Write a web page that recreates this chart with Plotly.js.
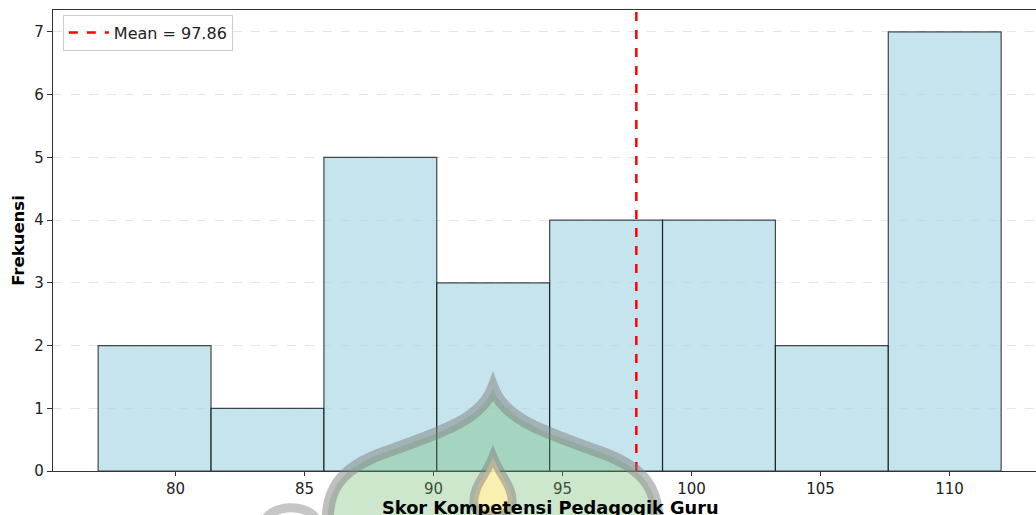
<!DOCTYPE html>
<html>
<head>
<meta charset="utf-8">
<script src="https://cdn.plot.ly/plotly-3.0.1.min.js"></script>
<style>html,body{margin:0;padding:0;background:#fff;}#chart{width:1036px;height:515px;}</style>
</head>
<body>
<div id="chart"></div>
<script>
// ---- data ----
const binStart = 77;
const binWidth = 4.375;
const counts = [2, 1, 5, 3, 4, 4, 2, 7];
const meanValue = 97.86;
const xTickVals = [80, 85, 90, 95, 100, 105, 110];
const yTickVals = [0, 1, 2, 3, 4, 5, 6, 7];
const xTitle = "Skor Kompetensi Pedagogik Guru";
const yTitle = "Frekuensi";
const meanLabel = "Mean = " + meanValue.toFixed(2);

const centers = counts.map((c, i) => binStart + binWidth * (i + 0.5));

// ---- layout geometry ----
const W = 1036, H = 515;
const mL = 53, mR = 0, mT = 10, mB = 44;
const plotW = W - mL - mR, plotH = H - mT - mB;
const pxPerUnit = 25.8;
const xMin = 75.25;
const xMax = xMin + plotW / pxPerUnit;
const yMax = 7.35;

// watermark decoration (pixel path -> paper coords)
function px2paper(path) {
  return path.replace(/(-?\d+(?:\.\d+)?),(-?\d+(?:\.\d+)?)/g, (m, a, b) => {
    const x = (parseFloat(a) - mL) / plotW;
    const y = (H - mB - parseFloat(b)) / plotH;
    return x.toFixed(5) + "," + y.toFixed(5);
  });
}
const domePath = px2paper("M493,388 C505,420 545,432 600,452 C645,468 660,490 657,530 L328,530 C325,490 340,468 386,452 C441,432 481,420 493,388 Z");
const flamePath = px2paper("M493,457 C500,475 514,488 512,504 C510,520 476,520 474,504 C472,488 486,475 493,457 Z");
const arcPath = px2paper("M264,522 C270,504 310,502 318,522");

const traces = [
  {
    type: "bar",
    x: centers,
    y: counts,
    width: binWidth,
    marker: { color: "rgba(173,216,230,0.7)", line: { color: "rgba(0,0,0,0.7)", width: 1.2 } },
    showlegend: false,
    hoverinfo: "x+y"
  },
  {
    type: "scatter",
    mode: "lines",
    x: [meanValue, meanValue],
    y: [0, yMax],
    name: meanLabel,
    line: { color: "red", width: 2.5, dash: "dash" },
    showlegend: true
  }
];

const layout = {
  width: W, height: H,
  margin: { l: mL, r: mR, t: mT, b: mB, pad: 0 },
  paper_bgcolor: "#fff",
  plot_bgcolor: "#fff",
  font: { family: "DejaVu Sans, sans-serif", color: "#222", size: 15 },
  xaxis: {
    range: [xMin, xMax],
    tickvals: xTickVals,
    ticks: "outside", ticklen: 4, tickwidth: 1, tickcolor: "#333",
    showline: true, linecolor: "#333", linewidth: 1.2, mirror: true,
    showgrid: false, zeroline: false,
    tickfont: { size: 15, color: "#222" }
  },
  yaxis: {
    range: [0, yMax],
    tickvals: yTickVals,
    ticks: "outside", ticklen: 5, tickwidth: 1, tickcolor: "#333",
    showline: true, linecolor: "#333", linewidth: 1.2,
    showgrid: true, gridcolor: "rgba(180,180,180,0.35)", griddash: "dash", gridwidth: 1,
    zeroline: false,
    tickfont: { size: 15, color: "#222" },
    title: { text: "<b>" + yTitle + "</b>", font: { size: 16.5, color: "#000" }, standoff: 5 }
  },
  legend: {
    x: 0.01, y: 0.99, xanchor: "left", yanchor: "top",
    bgcolor: "rgba(255,255,255,0.8)", bordercolor: "#ccc", borderwidth: 1,
    itemwidth: 40,
    font: { size: 16, color: "#222" }
  },
  annotations: [
    {
      text: "<b>" + xTitle + "</b>", xref: "paper", yref: "paper",
      x: (550 - mL) / plotW, y: (H - mB - 508) / plotH, xanchor: "center", yanchor: "middle",
      showarrow: false, font: { size: 17.8, color: "#000" }
    }
  ],
  shapes: [
    { type: "path", xref: "paper", yref: "paper", path: domePath, layer: "above",
      fillcolor: "rgba(100,180,100,0.32)", line: { color: "rgba(128,128,128,0.5)", width: 12 } },
    { type: "path", xref: "paper", yref: "paper", path: flamePath, layer: "above",
      fillcolor: "rgba(255,240,170,0.85)", line: { color: "rgba(128,128,128,0.5)", width: 9 } },
    { type: "path", xref: "paper", yref: "paper", path: arcPath, layer: "above",
      line: { color: "rgba(128,128,128,0.45)", width: 9 } }
  ]
};

Plotly.newPlot("chart", traces, layout, { displayModeBar: false, staticPlot: true });
</script>
</body>
</html>
